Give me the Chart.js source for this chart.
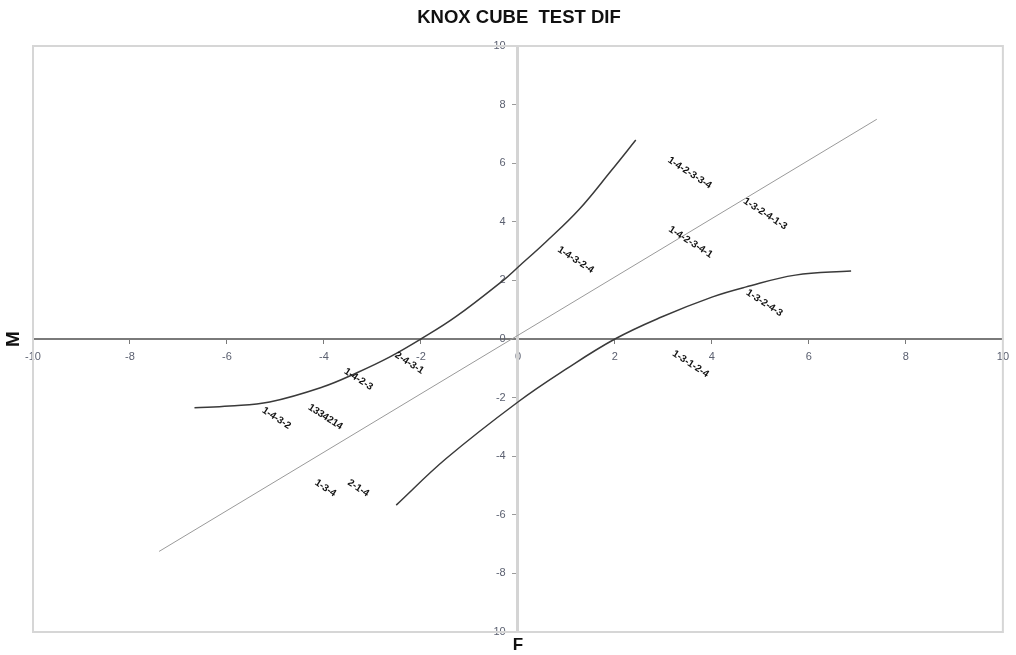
<!DOCTYPE html>
<html><head><meta charset="utf-8">
<script src="https://cdn.jsdelivr.net/npm/chart.js@4/dist/chart.umd.min.js"></script>
<style>html,body{margin:0;padding:0;background:#fff}#wrap{width:1016px;height:655px;position:relative}</style>
</head><body><div id="wrap"><canvas id="c"></canvas></div>
<script>
const chartTitle = 'KNOX CUBE  TEST DIF';
const xAxisTitle = 'F';
const yAxisTitle = 'M';

const identityX = [-7.4, 7.4];
const identityY = [-7.25, 7.5];

const upperX = [-6.67, -5.95, -5.12, -4.03, -3.33, -2.65, -2.0, -1.28, -0.29, 0.0, 0.58, 1.26, 1.93, 2.43];
const upperY = [-2.35, -2.29, -2.15, -1.64, -1.16, -0.62, 0.0, 0.76, 2.02, 2.45, 3.32, 4.42, 5.76, 6.79];

const lowerX = [-2.51, -1.48, 0.0, 0.99, 2.0, 2.96, 4.0, 4.69, 5.72, 6.87];
const lowerY = [-5.67, -4.08, -2.15, -1.03, 0.0, 0.75, 1.43, 1.77, 2.18, 2.32];

const itemLabels = ['1-4-2-3-3-4', '1-3-2-4-1-3', '1-4-2-3-4-1', '1-4-3-2-4', '1-3-2-4-3', '1-3-1-2-4',
                    '2-4-3-1', '1-4-2-3', '1-4-3-2', '1334214', '1-3-4', '2-1-4'];
const itemX = [3.54, 5.10, 3.56, 1.19, 5.08, 3.56, -2.24, -3.29, -4.98, -3.97, -3.97, -3.29];
const itemY = [5.67, 4.27, 3.31, 2.70, 1.23, -0.85, -0.82, -1.37, -2.70, -2.66, -5.09, -5.09];

const tickMin = -10, tickMax = 10, tickStep = 2;

const pts = (xs, ys) => xs.map((x, i) => ({x, y: ys[i]}));

Chart.defaults.font.family = '"Liberation Sans", Arial, sans-serif';

const labelPlugin = {
  id: 'itemLabels',
  afterDatasetsDraw(chart) {
    const meta = chart.getDatasetMeta(3);
    const ctx = chart.ctx;
    ctx.save();
    ctx.fillStyle = '#111';
    ctx.font = 'bold 10px "Liberation Sans", Arial, sans-serif';
    ctx.textAlign = 'center';
    ctx.textBaseline = 'middle';
    meta.data.forEach((el, i) => {
      ctx.save();
      ctx.translate(el.x, el.y);
      ctx.rotate(33 * Math.PI / 180);
      ctx.fillText(itemLabels[i], 0, 0);
      ctx.restore();
    });
    ctx.restore();
  }
};

const framePlugin = {
  id: 'frame',
  beforeDatasetsDraw(chart) {
    const {ctx, chartArea: a} = chart;
    ctx.save();
    ctx.strokeStyle = '#d6d6d6';
    ctx.lineWidth = 2;
    ctx.strokeRect(a.left, a.top, a.right - a.left, a.bottom - a.top);
    ctx.restore();
  },
  afterDraw(chart) {
    const {ctx} = chart;
    ctx.save();
    ctx.fillStyle = '#111';
    ctx.font = 'bold 17px "Liberation Sans", Arial, sans-serif';
    ctx.textAlign = 'center';
    ctx.textBaseline = 'middle';
    ctx.fillText(xAxisTitle, chart.scales.x.getPixelForValue(0), 645);
    ctx.translate(14, chart.scales.y.getPixelForValue(0));
    ctx.rotate(-Math.PI / 2);
    ctx.font = 'bold 19px "Liberation Sans", Arial, sans-serif';
    ctx.fillText(yAxisTitle, 0, 0);
    ctx.restore();
  }
};

new Chart(document.getElementById('c'), {
  type: 'scatter',
  data: {
    datasets: [
      {data: pts(identityX, identityY), showLine: true, borderColor: '#9a9a9a', borderWidth: 1, pointRadius: 0},
      {data: pts(upperX, upperY), showLine: true, borderColor: '#3a3a3a', borderWidth: 1.5, pointRadius: 0, tension: 0.4},
      {data: pts(lowerX, lowerY), showLine: true, borderColor: '#3a3a3a', borderWidth: 1.5, pointRadius: 0, tension: 0.4},
      {data: pts(itemX, itemY), showLine: false, pointRadius: 0}
    ]
  },
  options: {
    responsive: true,
    maintainAspectRatio: false,
    animation: false,
    layout: {padding: {left: 33, right: 11, top: 0, bottom: 23}},
    plugins: {
      legend: {display: false},
      tooltip: {enabled: false},
      title: {display: true, text: chartTitle, color: '#111',
              font: {size: 18.5, weight: 'bold'}, padding: {top: 7, bottom: 16.8}}
    },
    scales: {
      x: {
        type: 'linear', min: tickMin, max: tickMax, position: {y: 0},
        afterFit(s) { s.height = 0; },
        border: {display: true, color: '#7a7a7a', width: 2},
        grid: {display: true, drawOnChartArea: false, drawTicks: true, tickLength: 4, color: '#7a7a7a'},
        ticks: {stepSize: tickStep, color: '#5b6070', font: {size: 11}, padding: 7, maxRotation: 0, autoSkip: false}
      },
      y: {
        type: 'linear', min: tickMin, max: tickMax, position: {x: 0},
        afterFit(s) { s.width = 0; },
        border: {display: true, color: '#d4d4d4', width: 3},
        grid: {display: true, drawOnChartArea: false, drawTicks: true, tickLength: 4, color: '#9a9a9a'},
        ticks: {stepSize: tickStep, color: '#5b6070', font: {size: 11}, padding: 8, autoSkip: false,
                callback: (v) => v + '    '}
      }
    }
  },
  plugins: [labelPlugin, framePlugin]
});
</script>
</body></html>
